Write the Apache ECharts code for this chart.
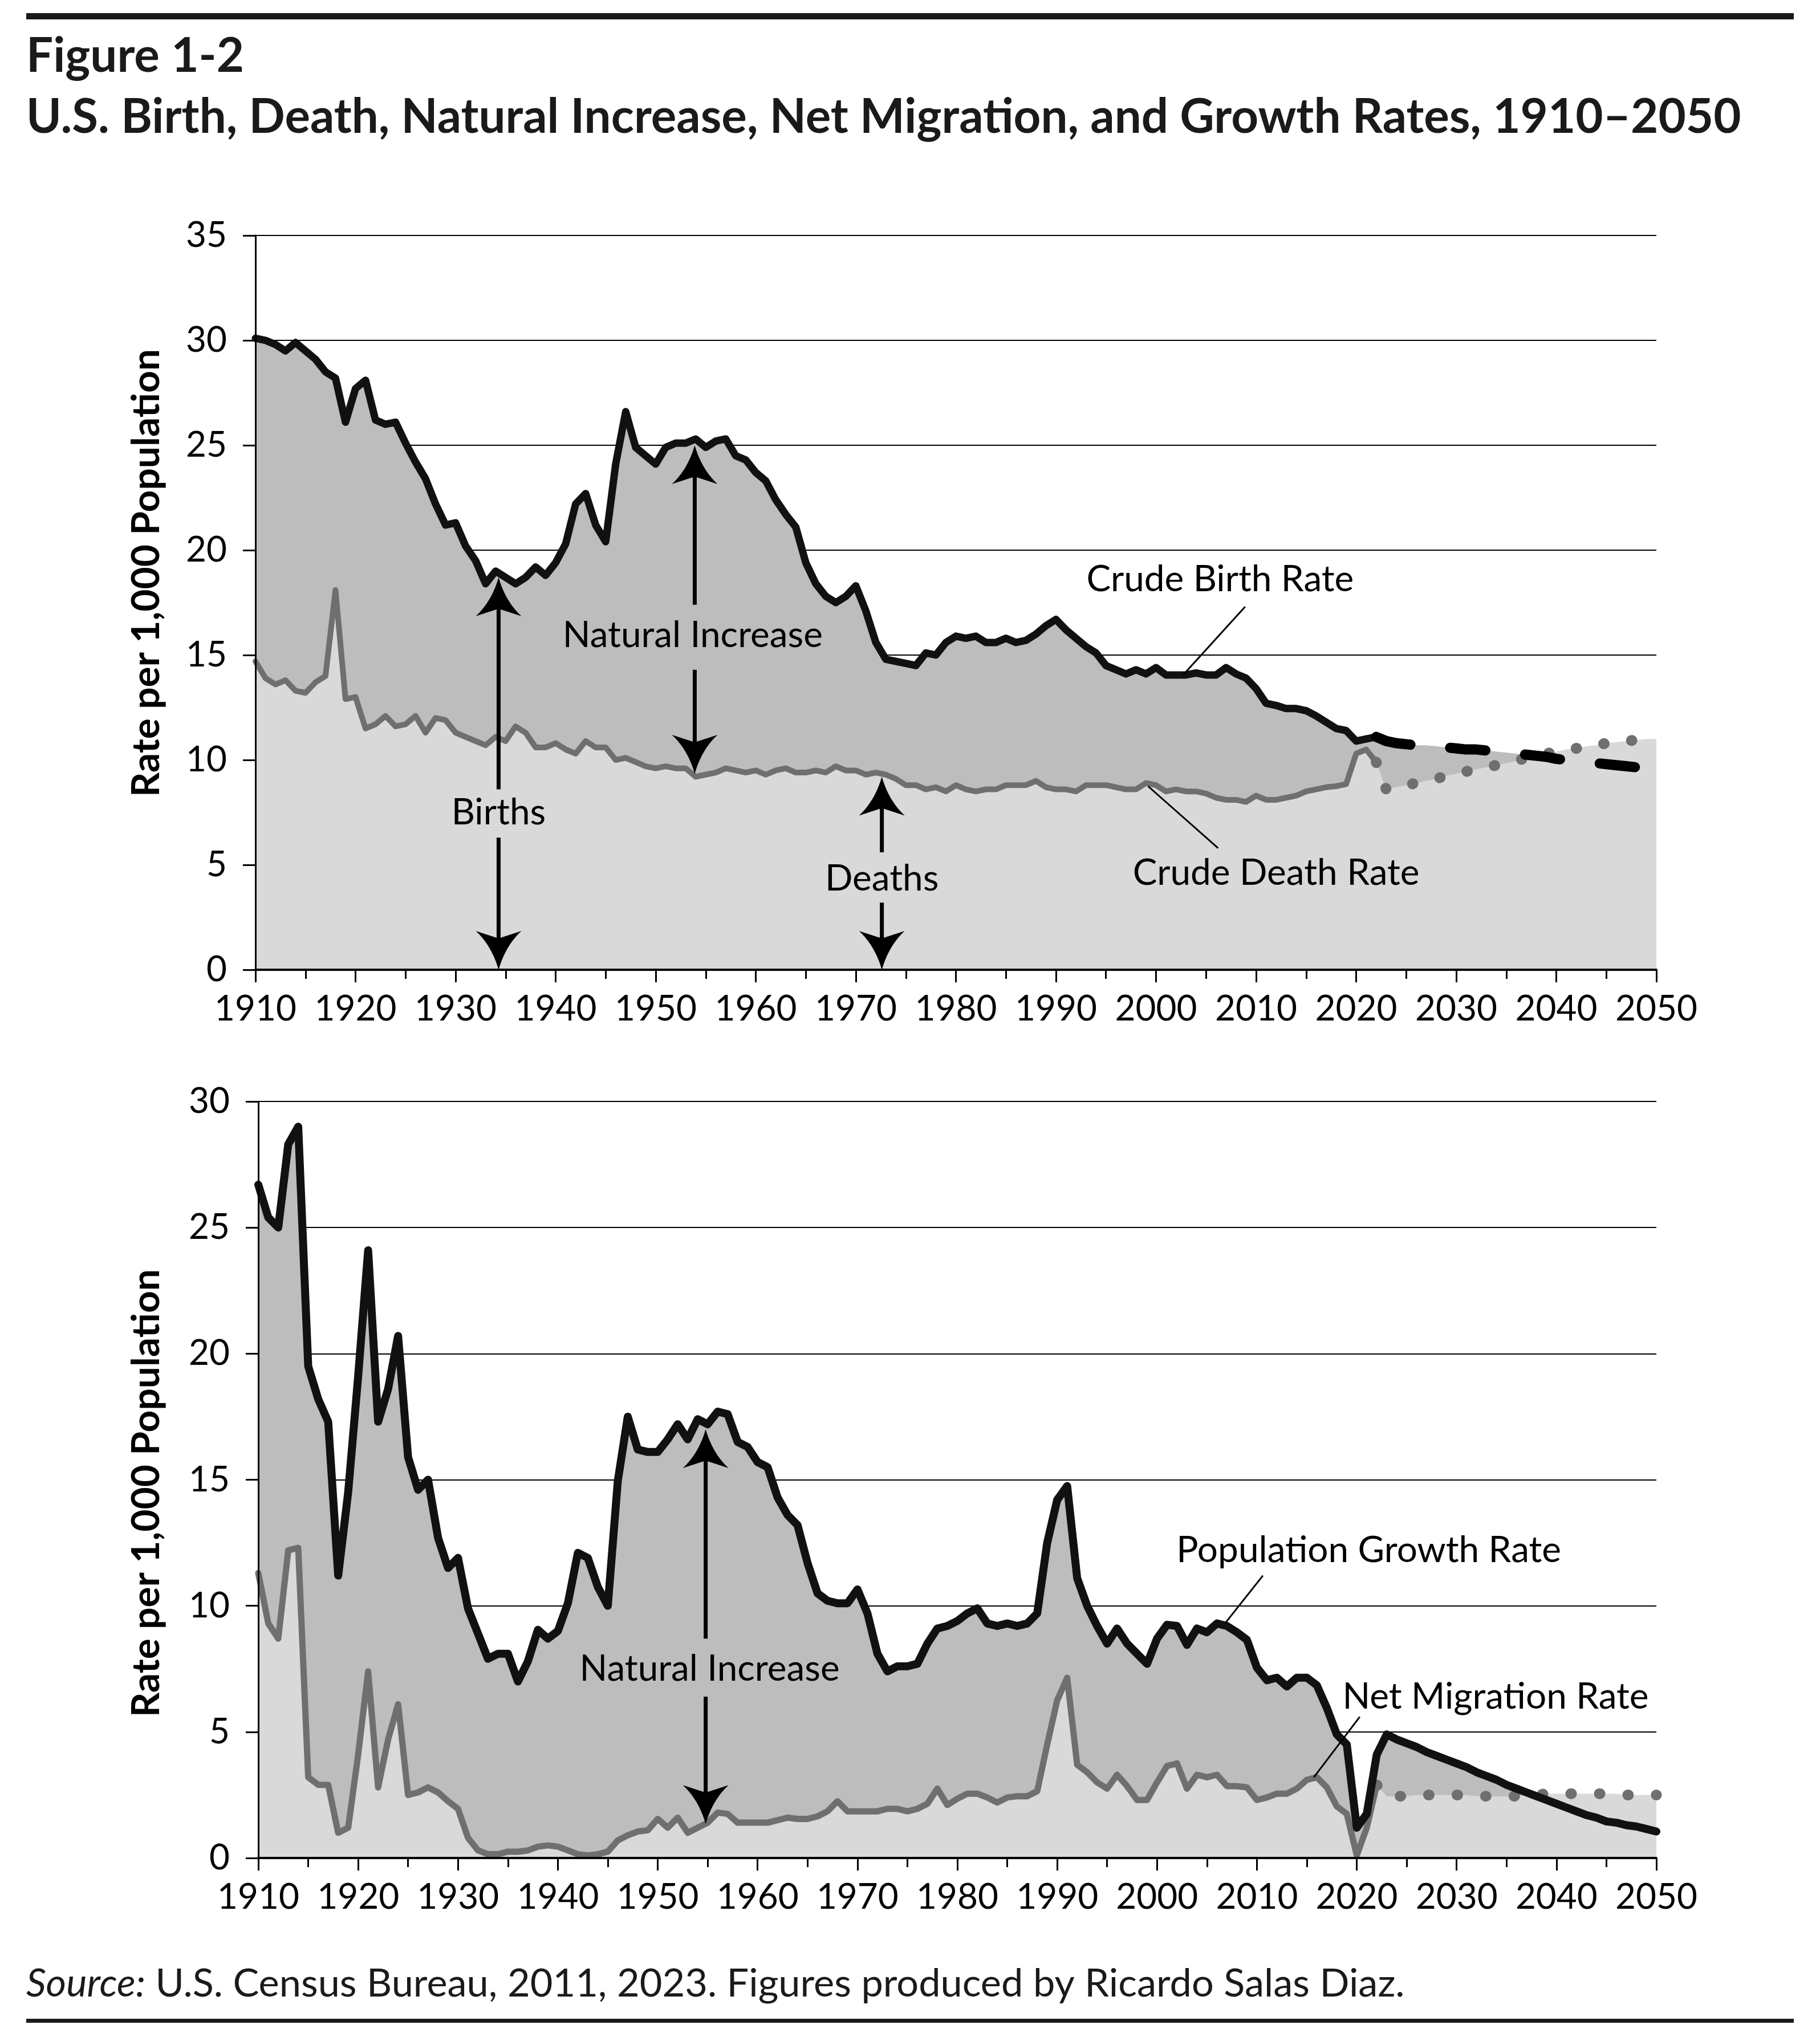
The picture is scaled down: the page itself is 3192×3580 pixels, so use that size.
<!DOCTYPE html>
<html>
<head>
<meta charset="utf-8">
<title>Figure 1-2</title>
<script src="https://cdn.jsdelivr.net/npm/echarts@6/dist/echarts.min.js"></script>
<style>
  html, body { margin: 0; padding: 0; background: #fff; }
  #chart { width: 3192px; height: 3580px; }
</style>
</head>
<body>
<div id="chart"></div>
<script>
// rates per 1,000 population, one value per year
const histStart = 1910 // first year of the historical series
const projStart = 2022 // projections start here, sharing the last historical point

// crude birth rate 1910-2022, then projection 2022-2050
const birthHist = [
  30.1, 30.0, 29.8, 29.5, 29.9, 29.5, 29.1, 28.5, 28.2, 26.1,
  27.7, 28.1, 26.2, 26.0, 26.1, 25.1, 24.2, 23.4, 22.2, 21.2,
  21.3, 20.2, 19.5, 18.4, 19.0, 18.7, 18.4, 18.7, 19.2, 18.8,
  19.4, 20.3, 22.2, 22.7, 21.2, 20.4, 24.1, 26.6, 24.9, 24.5,
  24.1, 24.9, 25.1, 25.1, 25.3, 24.9, 25.2, 25.3, 24.5, 24.3,
  23.7, 23.3, 22.4, 21.7, 21.1, 19.4, 18.4, 17.8, 17.5, 17.8,
  18.3, 17.1, 15.6, 14.8, 14.7, 14.6, 14.5, 15.1, 15.0, 15.6,
  15.9, 15.8, 15.9, 15.6, 15.6, 15.8, 15.6, 15.7, 16.0, 16.4,
  16.7, 16.2, 15.8, 15.4, 15.1, 14.5, 14.3, 14.1, 14.3, 14.1,
  14.4, 14.05, 14.05, 14.05, 14.15, 14.05, 14.05, 14.4, 14.1, 13.9,
  13.4, 12.7, 12.6, 12.45, 12.45, 12.35, 12.1, 11.8, 11.5, 11.4,
  10.9, 11.0, 11.1
]
const birthProj = [
  11.1, 10.9, 10.8, 10.75, 10.7, 10.7, 10.65, 10.6, 10.55, 10.5,
  10.5, 10.45, 10.4, 10.35, 10.3, 10.25, 10.2, 10.15, 10.05, 10.0,
  9.95, 9.9, 9.85, 9.8, 9.75, 9.7, 9.65, 9.6, 9.55
]

// crude death rate 1910-2022, then projection 2022-2050
const deathHist = [
  14.7, 13.9, 13.6, 13.8, 13.3, 13.2, 13.7, 14.0, 18.1, 12.9,
  13.0, 11.5, 11.7, 12.1, 11.6, 11.7, 12.1, 11.3, 12.0, 11.9,
  11.3, 11.1, 10.9, 10.7, 11.1, 10.9, 11.6, 11.3, 10.6, 10.6,
  10.8, 10.5, 10.3, 10.9, 10.6, 10.6, 10.0, 10.1, 9.9, 9.7,
  9.6, 9.7, 9.6, 9.6, 9.2, 9.3, 9.4, 9.6, 9.5, 9.4,
  9.5, 9.3, 9.5, 9.6, 9.4, 9.4, 9.5, 9.4, 9.7, 9.5,
  9.5, 9.3, 9.4, 9.3, 9.1, 8.8, 8.8, 8.6, 8.7, 8.5,
  8.8, 8.6, 8.5, 8.6, 8.6, 8.8, 8.8, 8.8, 9.0, 8.7,
  8.6, 8.6, 8.5, 8.8, 8.8, 8.8, 8.7, 8.6, 8.6, 8.9,
  8.8, 8.5, 8.6, 8.5, 8.5, 8.4, 8.2, 8.1, 8.1, 8.0,
  8.3, 8.1, 8.1, 8.2, 8.3, 8.5, 8.6, 8.7, 8.75, 8.85,
  10.3, 10.5, 9.9
]
const deathProj = [
  9.9, 8.6, 8.7, 8.8, 8.9, 9.0, 9.1, 9.25, 9.35, 9.45,
  9.55, 9.65, 9.75, 9.85, 9.95, 10.1, 10.2, 10.3, 10.4, 10.5,
  10.55, 10.65, 10.7, 10.8, 10.85, 10.9, 10.95, 11.0, 11.0
]

// population growth rate 1910-2050 (one continuous series)
const growthRate = [
  26.7, 25.4, 25.0, 28.3, 29.0, 19.5, 18.2, 17.3, 11.2, 14.5,
  19.1, 24.1, 17.3, 18.6, 20.7, 15.9, 14.6, 15.0, 12.7, 11.5,
  11.9, 9.9, 8.9, 7.9, 8.1, 8.1, 7.0, 7.8, 9.05, 8.7,
  9.0, 10.1, 12.1, 11.9, 10.75, 10.0, 14.95, 17.5, 16.2, 16.1,
  16.1, 16.6, 17.2, 16.6, 17.4, 17.2, 17.7, 17.6, 16.5, 16.3,
  15.7, 15.5, 14.3, 13.6, 13.2, 11.7, 10.5, 10.2, 10.1, 10.1,
  10.65, 9.7, 8.1, 7.4, 7.6, 7.6, 7.7, 8.5, 9.1, 9.2,
  9.4, 9.7, 9.9, 9.3, 9.2, 9.3, 9.2, 9.3, 9.7, 12.5,
  14.2, 14.75, 11.1, 10.0, 9.2, 8.5, 9.1, 8.5, 8.1, 7.7,
  8.7, 9.25, 9.2, 8.45, 9.1, 8.95, 9.3, 9.2, 8.95, 8.65,
  7.55, 7.05, 7.15, 6.8, 7.15, 7.15, 6.85, 5.95, 4.9, 4.5,
  1.2, 1.75, 4.1, 4.9, 4.7, 4.55, 4.4, 4.2, 4.05, 3.9,
  3.75, 3.6, 3.4, 3.25, 3.1, 2.9, 2.75, 2.6, 2.45, 2.3,
  2.15, 2.0, 1.85, 1.7, 1.6, 1.45, 1.4, 1.3, 1.25, 1.15,
  1.05
]

// net migration rate 1910-2022, then projection 2022-2050
const migHist = [
  11.3, 9.3, 8.7, 12.2, 12.3, 3.2, 2.9, 2.9, 1.0, 1.2,
  4.1, 7.4, 2.8, 4.7, 6.1, 2.5, 2.6, 2.8, 2.6, 2.25,
  1.95, 0.8, 0.3, 0.15, 0.15, 0.25, 0.25, 0.3, 0.45, 0.5,
  0.45, 0.3, 0.15, 0.1, 0.15, 0.25, 0.7, 0.9, 1.05, 1.1,
  1.55, 1.2, 1.6, 1.0, 1.2, 1.4, 1.8, 1.75, 1.4, 1.4,
  1.4, 1.4, 1.5, 1.6, 1.55, 1.55, 1.65, 1.85, 2.25, 1.85,
  1.85, 1.85, 1.85, 1.95, 1.95, 1.85, 1.95, 2.15, 2.75, 2.1,
  2.35, 2.55, 2.55, 2.4, 2.2, 2.4, 2.45, 2.45, 2.65, 4.5,
  6.25, 7.15, 3.7, 3.4, 3.0, 2.75, 3.3, 2.85, 2.3, 2.3,
  3.0, 3.65, 3.75, 2.75, 3.3, 3.2, 3.3, 2.85, 2.85, 2.8,
  2.3, 2.4, 2.55, 2.55, 2.75, 3.1, 3.2, 2.8, 2.05, 1.75,
  0.1, 1.2, 2.9
]
const migProj = [
  2.9, 2.45, 2.45, 2.45, 2.5, 2.5, 2.5, 2.5, 2.5, 2.5,
  2.45, 2.45, 2.45, 2.45, 2.45, 2.5, 2.5, 2.55, 2.55, 2.55,
  2.55, 2.55, 2.55, 2.55, 2.55, 2.5, 2.5, 2.5, 2.5
]

// ---- annotations, in data units ----
const topNotes = [
  { kind: 'arrow', x: 1934.3, top: 18.7, topEnd: 8.6, botStart: 6.3, bottom: 0 },
  { kind: 'text', x: 1934.3, y: 7.5, text: 'Births' },
  { kind: 'arrow', x: 1953.9, top: 25.0, topEnd: 17.4, botStart: 14.3, bottom: 9.35 },
  { kind: 'text', x: 1953.7, y: 15.95, text: 'Natural Increase' },
  { kind: 'arrow', x: 1972.6, top: 9.2, topEnd: 5.6, botStart: 3.2, bottom: 0 },
  { kind: 'text', x: 1972.6, y: 4.35, text: 'Deaths' },
  { kind: 'text', x: 2006.4, y: 18.6, text: 'Crude Birth Rate' },
  { kind: 'leader', x: 2008.9, y: 17.3, x2: 2002.7, y2: 14.05 },
  { kind: 'text', x: 2012.0, y: 4.6, text: 'Crude Death Rate' },
  { kind: 'leader', x: 1999.2, y: 8.75, x2: 2006.2, y2: 5.8 }
]
const bottomNotes = [
  { kind: 'arrow', x: 1954.8, top: 17.0, topEnd: 8.7, botStart: 6.4, bottom: 1.35 },
  { kind: 'text', x: 1955.2, y: 7.5, text: 'Natural Increase' },
  { kind: 'text', x: 2021.2, y: 12.2, text: 'Population Growth Rate' },
  { kind: 'leader', x: 2010.6, y: 11.2, x2: 2006.8, y2: 9.3 },
  { kind: 'text', x: 2033.9, y: 6.4, text: 'Net Migration Rate' },
  { kind: 'leader', x: 2020.3, y: 5.6, x2: 2015.7, y2: 3.2 }
]

const FONT = 'Lato, "Open Sans", sans-serif'
const INK = '#111'
const LINE_GRAY = '#6f6f6f'
const FILL_MID = '#bdbdbd'
const FILL_LIGHT = '#d9d9d9'

// pick font sizes so text runs as wide as in the printed figure
const measureCtx = document.createElement('canvas').getContext('2d')
function fit(text, width, weight = 'normal', style = 'normal') {
  measureCtx.font = `${style} ${weight} 100px ${FONT}`
  return 100 * width / measureCtx.measureText(text).width
}
const titleSize = fit('U.S. Birth, Death, Natural Increase, Net Migration, and Growth Rates, 1910–2050', 3008, 'bold')
const nameSize = fit('Rate per 1,000 Population', 786, 'bold')
const tickSize = fit('1910', 144)
const noteSize = fit('Crude Birth Rate', 469)
const sourceSize = fit('Source: U.S. Census Bureau, 2011, 2023. Figures produced by Ricardo Salas Diaz.', 2432)

function pairs(start, values) {
  return values.map((v, i) => [start + i, v])
}
const joined = (hist, proj) => pairs(histStart, hist).concat(pairs(projStart, proj).slice(1))

function quad(p0, c, p1, n) {
  const pts = []
  for (let i = 0; i <= n; i++) {
    const t = i / n
    const a = (1 - t) * (1 - t), b = 2 * (1 - t) * t, d = t * t
    pts.push([a * p0[0] + b * c[0] + d * p1[0], a * p0[1] + b * c[1] + d * p1[1]])
  }
  return pts
}

// s = 1: barbs below the tip (points up), s = -1: points down
function arrowHead(x, y, s) {
  const left = quad([x, y], [x - 12, y + s * 42], [x - 40, y + s * 68], 10)
  const right = quad([x + 40, y + s * 68], [x + 12, y + s * 42], [x, y], 10)
  return { type: 'polygon', shape: { points: left.concat([[x, y + s * 55]], right) }, style: { fill: '#000' } }
}

function shaft(x, y1, y2) {
  return { type: 'line', shape: { x1: x, y1: y1, x2: x, y2: y2 }, style: { stroke: '#000', lineWidth: 7 } }
}

function drawNote(note, api) {
  if (note.kind === 'arrow') {
    const top = api.coord([note.x, note.top])
    const topEnd = api.coord([note.x, note.topEnd])
    const botStart = api.coord([note.x, note.botStart])
    const bot = api.coord([note.x, note.bottom])
    return {
      type: 'group',
      children: [
        shaft(top[0], top[1] + 40, topEnd[1]),
        shaft(bot[0], botStart[1], bot[1] - 40),
        arrowHead(top[0], top[1], 1),
        arrowHead(bot[0], bot[1], -1)
      ]
    }
  }
  if (note.kind === 'leader') {
    const a = api.coord([note.x, note.y])
    const b = api.coord([note.x2, note.y2])
    return { type: 'line', shape: { x1: a[0], y1: a[1], x2: b[0], y2: b[1] }, style: { stroke: '#000', lineWidth: 3 } }
  }
  const p = api.coord([note.x, note.y])
  return {
    type: 'text',
    style: {
      text: note.text, x: p[0], y: p[1], align: 'center', verticalAlign: 'middle',
      fontSize: noteSize, fontFamily: FONT, fill: '#000'
    }
  }
}

function areaSeries(data, color, xi, yi) {
  return {
    type: 'line', data: data, xAxisIndex: xi, yAxisIndex: yi, z: 1,
    symbol: 'none', silent: true, lineStyle: { width: 0 },
    areaStyle: { color: color, opacity: 1 }
  }
}

function lineSeries(data, lineStyle, xi, yi) {
  return {
    type: 'line', data: data, xAxisIndex: xi, yAxisIndex: yi, z: 3,
    symbol: 'none', silent: true,
    lineStyle: Object.assign({ join: 'round', cap: 'round' }, lineStyle)
  }
}

function notesSeries(notes, xi, yi) {
  return {
    type: 'custom', xAxisIndex: xi, yAxisIndex: yi, z: 10, silent: true, clip: false,
    data: notes.map(n => [n.x, n.y !== undefined ? n.y : n.top]),
    renderItem: (params, api) => drawNote(notes[params.dataIndex], api)
  }
}

function xAxis(gridIndex) {
  return {
    type: 'value', gridIndex: gridIndex, position: 'bottom', min: 1910, max: 2050, interval: 10, z: 5,
    axisLine: { lineStyle: { color: '#000', width: 4 } },
    axisTick: { length: 22, lineStyle: { color: '#000', width: 3 } },
    minorTick: { show: true, splitNumber: 2, length: 16, lineStyle: { color: '#000', width: 3 } },
    axisLabel: { color: '#000', fontSize: tickSize, fontFamily: FONT, margin: 38, formatter: v => String(v) },
    splitLine: { show: false }
  }
}

// gridlines sit under the areas, axis line and labels sit over them
function yAxes(gridIndex, max) {
  return [
    {
      type: 'value', gridIndex: gridIndex, position: 'left', min: 0, max: max, interval: 5, z: 0,
      axisLine: { show: false }, axisTick: { show: false }, axisLabel: { show: false },
      splitLine: { show: true, lineStyle: { color: '#000', width: 2 } }
    },
    {
      type: 'value', gridIndex: gridIndex, position: 'left', offset: 0, min: 0, max: max, interval: 5, z: 5,
      axisLine: { show: true, lineStyle: { color: '#000', width: 3 } },
      axisTick: { show: true, length: 22, lineStyle: { color: '#000', width: 3 } },
      axisLabel: { color: '#000', fontSize: tickSize, fontFamily: FONT, margin: 50 },
      splitLine: { show: false }
    }
  ]
}

const chart = echarts.init(document.getElementById('chart'), null, { renderer: 'canvas' })

chart.setOption({
  animation: false,
  backgroundColor: '#fff',
  grid: [
    { left: 448, top: 413, width: 2457, height: 1288 },
    { left: 453, top: 1932, width: 2452, height: 1327 }
  ],
  xAxis: [xAxis(0), xAxis(1)],
  yAxis: yAxes(0, 35).concat(yAxes(1, 30)),
  series: [
    // top: births and deaths
    areaSeries(joined(birthHist, birthProj), FILL_MID, 0, 0),
    areaSeries(joined(deathHist, deathProj), FILL_LIGHT, 0, 0),
    lineSeries(pairs(histStart, deathHist), { color: LINE_GRAY, width: 10 }, 0, 0),
    lineSeries(pairs(projStart, deathProj), { color: LINE_GRAY, width: 19, type: [1, 48] }, 0, 0),
    lineSeries(pairs(histStart, birthHist), { color: INK, width: 13 }, 0, 0),
    lineSeries(pairs(projStart, birthProj), { color: '#000', width: 18, type: [62, 70] }, 0, 0),
    notesSeries(topNotes, 0, 0),
    // bottom: growth and net migration
    areaSeries(pairs(histStart, growthRate), FILL_MID, 1, 2),
    areaSeries(joined(migHist, migProj), FILL_LIGHT, 1, 2),
    lineSeries(pairs(histStart, migHist), { color: LINE_GRAY, width: 11 }, 1, 2),
    lineSeries(pairs(projStart, migProj), { color: LINE_GRAY, width: 19, type: [1, 49] }, 1, 2),
    lineSeries(pairs(histStart, growthRate), { color: INK, width: 14 }, 1, 2),
    notesSeries(bottomNotes, 1, 2)
  ],
  graphic: [
    { type: 'rect', shape: { x: 46, y: 23, width: 3100, height: 11 }, style: { fill: '#1a1a1a' } },
    {
      type: 'text', x: 46, y: 99,
      style: { text: 'Figure 1-2', fontSize: titleSize, fontWeight: 'bold', fontFamily: FONT, fill: '#1a1a1a', verticalAlign: 'middle' }
    },
    {
      type: 'text', x: 46, y: 206,
      style: {
        text: 'U.S. Birth, Death, Natural Increase, Net Migration, and Growth Rates, 1910–2050',
        fontSize: titleSize, fontWeight: 'bold', fontFamily: FONT, fill: '#1a1a1a', verticalAlign: 'middle'
      }
    },
    {
      type: 'text', x: 257, y: 1005, rotation: Math.PI / 2,
      style: { text: 'Rate per 1,000 Population', fontSize: nameSize, fontWeight: 'bold', fontFamily: FONT, fill: '#000', align: 'center', verticalAlign: 'middle' }
    },
    {
      type: 'text', x: 257, y: 2619, rotation: Math.PI / 2,
      style: { text: 'Rate per 1,000 Population', fontSize: nameSize, fontWeight: 'bold', fontFamily: FONT, fill: '#000', align: 'center', verticalAlign: 'middle' }
    },
    {
      type: 'text', x: 46, y: 3480,
      style: {
        text: '{i|Source:} U.S. Census Bureau, 2011, 2023. Figures produced by Ricardo Salas Diaz.',
        fontSize: sourceSize, fontFamily: FONT, fill: '#1a1a1a', verticalAlign: 'middle',
        rich: { i: { fontStyle: 'italic', fontSize: sourceSize, fontFamily: FONT, fill: '#1a1a1a' } }
      }
    },
    { type: 'rect', shape: { x: 46, y: 3541, width: 3100, height: 7 }, style: { fill: '#1a1a1a' } }
  ]
})
</script>
</body>
</html>
